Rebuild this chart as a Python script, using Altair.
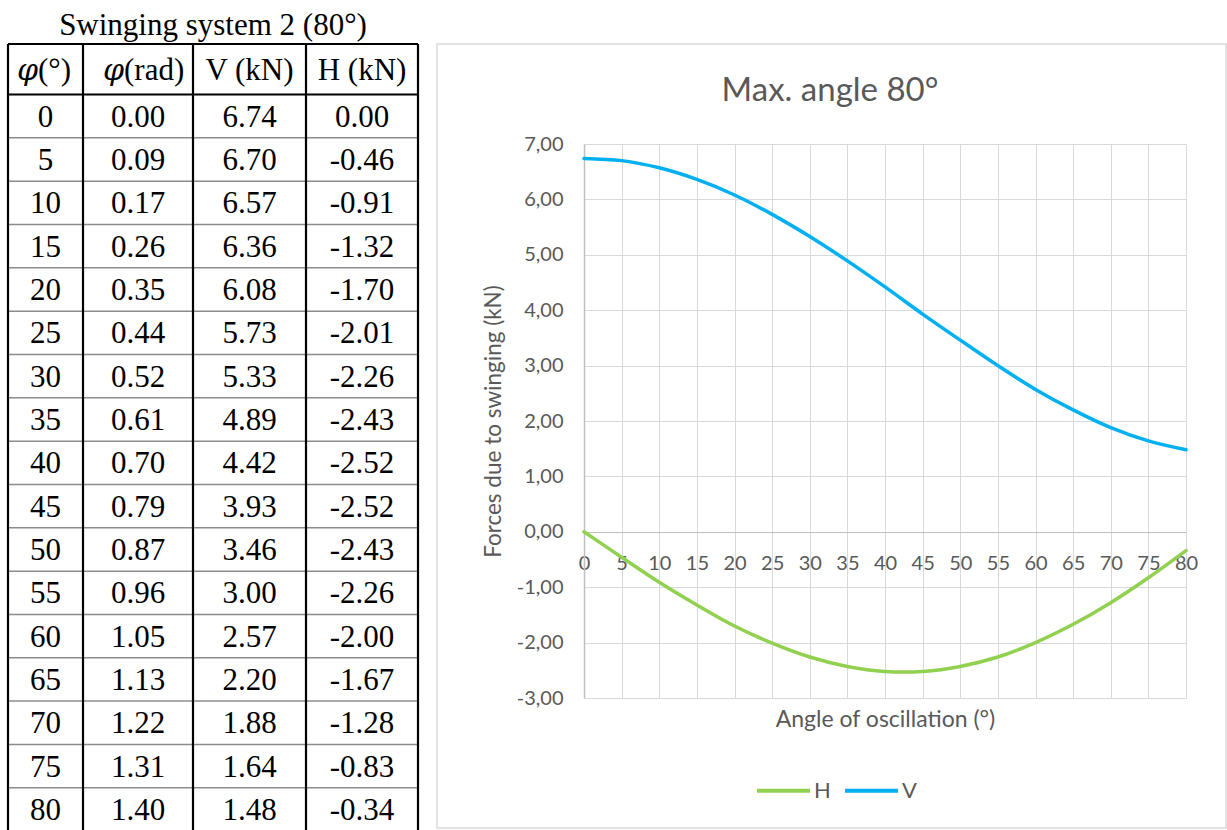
import altair as alt
import pandas as pd

# ---------------- data ----------------
phi_deg = [0, 5, 10, 15, 20, 25, 30, 35, 40, 45, 50, 55, 60, 65, 70, 75, 80]
phi_rad = [0.00, 0.09, 0.17, 0.26, 0.35, 0.44, 0.52, 0.61, 0.70, 0.79, 0.87,
           0.96, 1.05, 1.13, 1.22, 1.31, 1.40]
V_kN = [6.74, 6.70, 6.57, 6.36, 6.08, 5.73, 5.33, 4.89, 4.42, 3.93, 3.46,
        3.00, 2.57, 2.20, 1.88, 1.64, 1.48]
H_kN = [0.00, -0.46, -0.91, -1.32, -1.70, -2.01, -2.26, -2.43, -2.52, -2.52,
        -2.43, -2.26, -2.00, -1.67, -1.28, -0.83, -0.34]
series = ["H", "V"]
series_colors = ["#92D050", "#00B0F0"]
x_ticks = [0, 5, 10, 15, 20, 25, 30, 35, 40, 45, 50, 55, 60, 65, 70, 75, 80]
y_ticks = [-3, -2, -1, 0, 1, 2, 3, 4, 5, 6, 7]
table_title = "Swinging system 2 (80°)"
chart_title = "Max. angle 80°"
x_title = "Angle of oscillation (°)"
y_title = "Forces due to swinging (kN)"

# ---------------- layout (pixels) ----------------
PL, PT, PW, PH = 584, 144, 602, 554
W, Hh = 1227, 830
COL_EDGES = [8, 83, 193, 306, 418]
TABLE_TOP = 44
HEADER_BOTTOM = 94.5
ROW_H = 43.33
TEXT_GREY = "#595959"
CHART_FONT = "Lato"
TABLE_FONT = "Liberation Serif"

PX = alt.Scale(domain=[PL, PL + PW], nice=False, zero=False)
PY = alt.Scale(domain=[PT, PT + PH], nice=False, zero=False, reverse=True)


def px(field):
    return alt.X(field, type="quantitative", scale=PX, axis=None)


def py(field):
    return alt.Y(field, type="quantitative", scale=PY, axis=None)


# ---------------- table ----------------
centers = [(COL_EDGES[i] + COL_EDGES[i + 1]) / 2 for i in range(4)]
body = []
for i in range(len(phi_deg)):
    yb = HEADER_BOTTOM + ROW_H * i + 32.3
    vals = [f"{phi_deg[i]}", f"{phi_rad[i]:.2f}", f"{V_kN[i]:.2f}", f"{H_kN[i]:.2f}"]
    for j, t in enumerate(vals):
        body.append({"x": centers[j], "y": yb, "text": t})
body_df = pd.DataFrame(body)

hdr_y = 79.5
hdr_plain = pd.DataFrame([
    {"x": 38, "y": hdr_y, "text": "(°)"},
    {"x": 124, "y": hdr_y, "text": "(rad)"},
])
hdr_center = pd.DataFrame([
    {"x": centers[2], "y": hdr_y, "text": "V (kN)"},
    {"x": centers[3], "y": hdr_y, "text": "H (kN)"},
])
hdr_phi = pd.DataFrame([
    {"x": 38, "y": hdr_y, "text": "φ"},
    {"x": 124, "y": hdr_y, "text": "φ"},
])

thick = []
for xe in COL_EDGES:
    thick.append({"x": xe, "x2": xe, "y": TABLE_TOP, "y2": Hh + 10})
thick.append({"x": COL_EDGES[0], "x2": COL_EDGES[-1], "y": TABLE_TOP, "y2": TABLE_TOP})
thick.append({"x": COL_EDGES[0], "x2": COL_EDGES[-1], "y": HEADER_BOTTOM, "y2": HEADER_BOTTOM})
thick_df = pd.DataFrame(thick)

thin = []
for k in range(1, len(phi_deg)):
    yy = HEADER_BOTTOM + ROW_H * k
    thin.append({"x": COL_EDGES[0], "x2": COL_EDGES[-1], "y": yy, "y2": yy})
thin_df = pd.DataFrame(thin)

thin_rules = alt.Chart(thin_df).mark_rule(color="#8c8c8c", strokeWidth=1.5).encode(
    x=px("x"), x2="x2", y=py("y"), y2="y2")
thick_rules = alt.Chart(thick_df).mark_rule(color="#000000", strokeWidth=2.2).encode(
    x=px("x"), x2="x2", y=py("y"), y2="y2")

body_text = alt.Chart(body_df).mark_text(
    font=TABLE_FONT, fontSize=31, color="#000000", align="center", baseline="alphabetic"
).encode(x=px("x"), y=py("y"), text="text:N")

hdr_plain_text = alt.Chart(hdr_plain).mark_text(
    font=TABLE_FONT, fontSize=31, color="#000000", align="left", baseline="alphabetic"
).encode(x=px("x"), y=py("y"), text="text:N")

hdr_center_text = alt.Chart(hdr_center).mark_text(
    font=TABLE_FONT, fontSize=31, color="#000000", align="center", baseline="alphabetic"
).encode(x=px("x"), y=py("y"), text="text:N")

hdr_phi_text = alt.Chart(hdr_phi).mark_text(
    font="DejaVu Serif", fontSize=30, fontStyle="italic", color="#000000",
    align="right", baseline="alphabetic"
).encode(x=px("x"), y=py("y"), text="text:N")

tbl_title_df = pd.DataFrame([{"x": (COL_EDGES[0] + COL_EDGES[-1]) / 2, "y": 35, "text": table_title}])
tbl_title = alt.Chart(tbl_title_df).mark_text(
    font=TABLE_FONT, fontSize=31, color="#000000", align="center", baseline="alphabetic"
).encode(x=px("x"), y=py("y"), text="text:N")

# ---------------- chart frame & title ----------------
frame_df = pd.DataFrame([{"x": 437, "x2": 1226, "y": 44, "y2": 828}])
frame = alt.Chart(frame_df).mark_rect(filled=False, stroke="#d9d9d9", strokeWidth=1.5).encode(
    x=px("x"), x2="x2", y=py("y"), y2="y2")

ctitle_df = pd.DataFrame([{"x": 830, "y": 101, "text": chart_title}])
ctitle = alt.Chart(ctitle_df).mark_text(
    font=CHART_FONT, fontSize=33, color=TEXT_GREY, align="center", baseline="alphabetic"
).encode(x=px("x"), y=py("y"), text="text:N")

# ---------------- lines ----------------
rows = []
for a, h, v in zip(phi_deg, H_kN, V_kN):
    rows.append({"angle": a, "value": h, "series": "H"})
    rows.append({"angle": a, "value": v, "series": "V"})
lines_df = pd.DataFrame(rows)

y_label_expr = ("(datum.value < 0 ? '-' : '') + "
                "replace(format(abs(datum.value), '.2f'), '.', ',')")

lines = alt.Chart(lines_df).mark_line(
    interpolate="catmull-rom", strokeWidth=3.5, strokeCap="round"
).encode(
    x=alt.X("angle:Q", scale=alt.Scale(domain=[0, 80], nice=False, zero=False),
            axis=alt.Axis(orient="bottom", values=x_ticks, grid=True, gridColor="#d9d9d9",
                          gridWidth=1, domain=False, ticks=False, labelPadding=-135,
                          labelBaseline="middle", labelFlush=False, labelOverlap=False,
                          labelFont=CHART_FONT, labelFontSize=20, labelColor=TEXT_GREY,
                          title=x_title, titleFont=CHART_FONT, titleFontSize=23,
                          titleFontWeight="normal", titleColor=TEXT_GREY,
                          titleX=PW / 2, titleY=21, titleBaseline="middle",
                          titleAlign="center")),
    y=alt.Y("value:Q", scale=alt.Scale(domain=[-3, 7], nice=False, zero=False),
            axis=alt.Axis(orient="left", values=y_ticks, grid=True,
                          gridColor=alt.condition("datum.value === 0",
                                                  alt.value("#bfbfbf"), alt.value("#d9d9d9")),
                          gridWidth=1, domain=True, domainColor="#bfbfbf", domainWidth=1.5,
                          ticks=False, labelPadding=21, labelExpr=y_label_expr,
                          labelFlush=False, labelOverlap=False,
                          labelFont=CHART_FONT, labelFontSize=20, labelColor=TEXT_GREY,
                          title=y_title, titleFont=CHART_FONT, titleFontSize=22.5,
                          titleFontWeight="normal", titleColor=TEXT_GREY,
                          titleX=-91, titleY=PH / 2, titleAngle=270,
                          titleBaseline="middle", titleAlign="center")),
    color=alt.Color("series:N", scale=alt.Scale(domain=series, range=series_colors),
                    legend=alt.Legend(orient="none", legendX=171, legendY=618,
                                      direction="horizontal", title=None,
                                      symbolType="stroke", symbolSize=2809,
                                      symbolStrokeWidth=4, labelFont=CHART_FONT,
                                      labelFontSize=22, labelColor=TEXT_GREY,
                                      labelOffset=2, columnPadding=6, padding=0)),
    detail="series:N",
)

chart = alt.layer(
    frame, thin_rules, thick_rules, body_text, hdr_plain_text, hdr_center_text,
    hdr_phi_text, tbl_title, ctitle, lines
).resolve_scale(
    x="independent", y="independent"
).properties(
    width=PW, height=PH,
    autosize=alt.AutoSizeParams(type="none"),
    padding={"left": PL, "top": PT, "right": W - PL - PW, "bottom": Hh - PT - PH},
    background="#ffffff",
).configure_view(stroke="transparent")

chart.save("out.html", embed_options={"renderer": "svg", "actions": False})
